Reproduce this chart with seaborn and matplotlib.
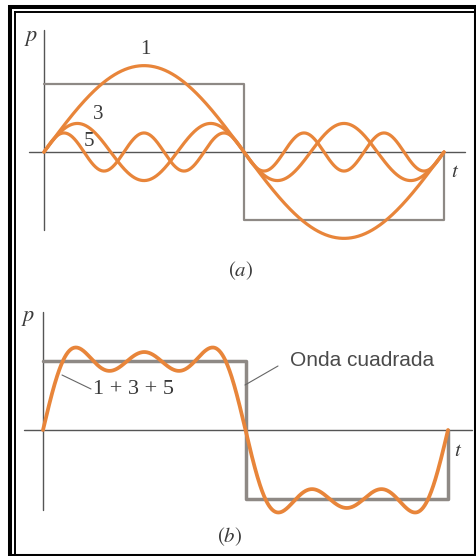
import numpy as np
import pandas as pd
import matplotlib
matplotlib.use("Agg")
import matplotlib.pyplot as plt
import seaborn as sns
from matplotlib.lines import Line2D

# Fourier components of a square wave (odd harmonics and their amplitudes,
# in units of the square-wave level)
harmonics = [1, 3, 5]
amplitudes = [1.27, 0.42, 0.28]
harmonic_labels = ["1", "3", "5"]

# Square wave over one period: corner points (t in radians, p in level units)
square_t = [0.0, np.pi, np.pi, 2 * np.pi, 2 * np.pi]
square_p = [1.0, 1.0, -1.0, -1.0, 0.0]

sum_label = "1 + 3 + 5"
square_label = "Onda cuadrada"

ORANGE = "#e8853a"
SQUARE = "#8e8985"
AXIS = "#555555"

sns.set_style("white")
plt.rcParams["mathtext.fontset"] = "stix"
plt.rcParams["font.family"] = ["Liberation Serif", "DejaVu Serif"]

W, H = 477, 556
fig = plt.figure(figsize=(W / 100, H / 100), dpi=100)
fig.patch.set_facecolor("white")


def fx(px):
    return px / W


def fy(py):
    return 1 - py / H


def panel(left, right, top, bottom, t0_px, t2pi_px, p0_px, p_scale):
    ax = fig.add_axes([fx(left), fy(bottom), (right - left) / W, (bottom - top) / H])
    sx = (t2pi_px - t0_px) / (2 * np.pi)
    ax.set_xlim((left - t0_px) / sx, (right - t0_px) / sx)
    ax.set_ylim((p0_px - bottom) / p_scale, (p0_px - top) / p_scale)
    ax.axis("off")
    return ax, sx


def draw_axes(ax, sx, p_scale, t0_px, p0_px, xa, ya):
    # horizontal t axis and vertical p axis as thin dark lines
    ax.plot([(xa[0] - t0_px) / sx, (xa[1] - t0_px) / sx], [0, 0],
            color=AXIS, lw=1.0, clip_on=False, zorder=1)
    ax.plot([0, 0], [(p0_px - ya[1]) / p_scale, (p0_px - ya[0]) / p_scale],
            color=AXIS, lw=1.0, clip_on=False, zorder=1)


t = np.linspace(0, 2 * np.pi, 800)
square_df = pd.DataFrame({"t": square_t, "p": square_p})

# ---------- (a) individual harmonics ----------
axa, sxa = panel(20, 472, 20, 258, 44, 444, 152, 68)
draw_axes(axa, sxa, 68, 44, 152, (29, 465), (30, 230))
sns.lineplot(data=square_df, x="t", y="p", sort=False, estimator=None,
             color=SQUARE, lw=1.6, ax=axa, zorder=2)
for n, a in zip(harmonics, amplitudes):
    comp = pd.DataFrame({"t": t, "p": a * np.sin(n * t)})
    sns.lineplot(data=comp, x="t", y="p", sort=False, estimator=None,
                 color=ORANGE, lw=2.3, ax=axa, zorder=3, clip_on=False)

# ---------- (b) sum of the harmonics ----------
axb, sxb = panel(20, 474, 300, 525, 43, 448, 430, 69)
draw_axes(axb, sxb, 69, 43, 430, (24, 472), (312, 510))
sns.lineplot(data=square_df, x="t", y="p", sort=False, estimator=None,
             color=SQUARE, lw=2.5, ax=axb, zorder=2)
total = sum(a * np.sin(n * t) for n, a in zip(harmonics, amplitudes))
sns.lineplot(data=pd.DataFrame({"t": t, "p": total}), x="t", y="p", sort=False,
             estimator=None, color=ORANGE, lw=2.7, ax=axb, zorder=3, clip_on=False)

for a in (axa, axb):
    leg = a.get_legend()
    if leg:
        leg.remove()

# ---------- text ----------
def label(px, py, s, size=15, **kw):
    fig.text(fx(px), fy(py), s, fontsize=size, ha=kw.pop("ha", "center"),
             va=kw.pop("va", "center"), color=kw.pop("color", "#3a3a3a"), **kw)

label(31, 39, r"$p$", 16)
label(455, 172, r"$t$", 15)
for s, (px, py) in zip(harmonic_labels, [(145, 50), (98, 114), (89, 142)]):
    label(px, py, s, 15)
label(241, 271, r"$(a)$", 15)

label(28, 319, r"$p$", 16)
label(458, 452, r"$t$", 15)
label(93, 389, sum_label, 16, ha="left")
label(290, 361, square_label, 15, ha="left", family=["Liberation Sans", "DejaVu Sans"],
      color="#4a4a4a")
label(230, 537, r"$(b)$", 15)

# leader lines for the (b) annotations
for (x1, y1), (x2, y2) in [((62, 375), (91, 389)), ((245, 385), (278, 366))]:
    fig.add_artist(Line2D([fx(x1), fx(x2)], [fy(y1), fy(y2)],
                          color="#666666", lw=0.8, transform=fig.transFigure))

# ---------- double frame ----------
def frame_line(xs, ys, lw):
    fig.add_artist(Line2D([fx(x) for x in xs], [fy(y) for y in ys], color="black",
                          lw=lw, transform=fig.transFigure, solid_capstyle="butt"))

frame_line([10, 10], [5, 556], 2.9)      # outer left
frame_line([8, 477], [7, 7], 2.9)        # outer top
frame_line([475.5, 475.5], [5, 556], 2.2)  # right
frame_line([8, 477], [554.5, 554.5], 2.2)  # bottom
frame_line([15, 15], [11, 556], 1.4)     # inner left
frame_line([14, 477], [12, 12], 1.4)     # inner top

fig.savefig("out.png", dpi=100, facecolor="white")
